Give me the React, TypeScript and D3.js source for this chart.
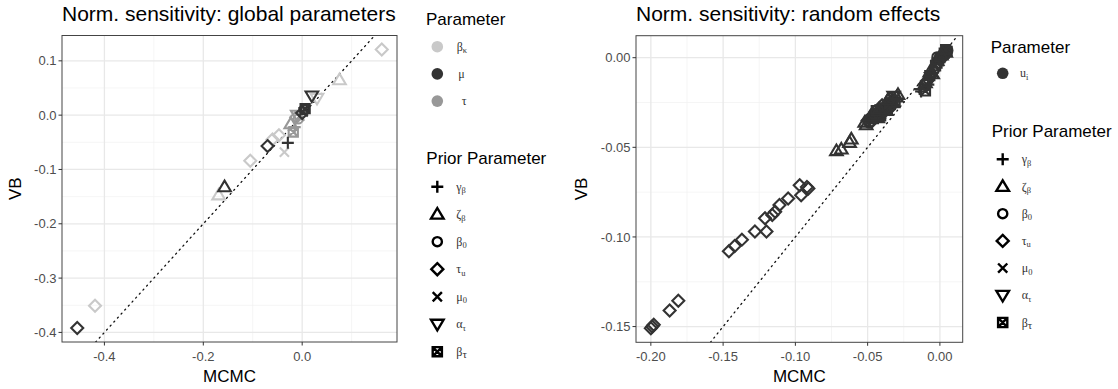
import React from "react";
import * as d3 from "d3";

// ---- global parameters panel ----
const globalParam = [
  "bk", "bk", "bk", "bk", "bk", "bk", "bk", "bk", "bk",
  "tau", "tau", "tau", "tau", "tau", "tau", "tau",
  "mu", "mu", "mu", "mu", "mu", "mu", "mu", "mu", "mu",
];
const globalPrior = [
  "tauu", "zeta", "tauu", "tauu", "tauu", "mu0", "zeta", "tauu", "alpha",
  "betatau", "zeta", "tauu", "beta0", "gamma", "mu0", "alpha",
  "tauu", "zeta", "tauu", "gamma", "alpha", "beta0", "betatau", "mu0", "tauu",
];
const globalMcmc = [
  -0.419, -0.169, -0.105, -0.06, -0.047, -0.036, 0.0755, 0.161, 0.03,
  -0.018, -0.023, -0.012, -0.008, -0.015, -0.005, -0.01,
  -0.455, -0.157, -0.07, -0.029, 0.0196, 0.004, 0.006, 0.002, 0.0,
];
const globalVb = [
  -0.351, -0.147, -0.084, -0.045, -0.037, -0.068, 0.065, 0.121, 0.031,
  -0.031, -0.016, -0.004, -0.007, -0.022, -0.002, 0.0,
  -0.392, -0.132, -0.057, -0.051, 0.0355, 0.01, 0.012, 0.006, 0.004,
];

// ---- random effects panel (all u_i) ----
const randomPrior = [
  "tauu", "tauu", "tauu", "tauu", "tauu", "tauu", "tauu", "tauu", "tauu", "tauu",
  "tauu", "tauu", "tauu", "tauu", "tauu", "tauu", "tauu", "tauu", "tauu",
  "zeta", "zeta", "zeta", "zeta",
  "zeta", "tauu", "beta0", "mu0", "zeta", "betatau", "gamma", "tauu", "zeta", "beta0",
  "betatau", "alpha", "zeta", "tauu", "beta0", "zeta", "alpha", "tauu", "zeta", "beta0",
  "betatau", "zeta",
  "zeta", "beta0", "tauu", "gamma", "zeta", "betatau", "beta0", "zeta", "tauu", "alpha",
  "zeta", "beta0", "betatau", "zeta", "tauu", "gamma", "zeta", "beta0", "alpha", "zeta",
  "gamma", "mu0", "zeta", "tauu", "beta0", "betatau", "alpha", "zeta", "gamma", "mu0",
  "gamma", "betatau", "zeta", "beta0",
  "betatau", "beta0", "betatau", "tauu", "beta0", "betatau", "zeta", "betatau", "beta0", "alpha", "mu0",
  "betatau", "beta0", "tauu", "betatau", "zeta",
];
const randomMcmc = [
  -0.2, -0.199, -0.198, -0.187, -0.181, -0.146, -0.142, -0.137, -0.128, -0.12,
  -0.121, -0.116, -0.114, -0.111, -0.105, -0.097, -0.092, -0.096, -0.091,
  -0.0716, -0.0682, -0.0625, -0.0613,
  -0.052, -0.05, -0.049, -0.048, -0.047, -0.046, -0.045, -0.044, -0.043, -0.042,
  -0.041, -0.04, -0.039, -0.038, -0.037, -0.036, -0.035, -0.034, -0.033, -0.032,
  -0.031, -0.03,
  -0.051, -0.049, -0.047, -0.045, -0.043, -0.041, -0.039, -0.037, -0.035, -0.033,
  -0.048, -0.046, -0.044, -0.042, -0.04, -0.038, -0.036, -0.034, -0.032, -0.029,
  -0.013, -0.011, -0.01, -0.009, -0.008, -0.007, -0.006, -0.005, -0.008, -0.012,
  -0.014, -0.01, -0.007, -0.004,
  -0.002, -0.001, 0.0, 0.001, 0.002, 0.003, 0.004, 0.005, 0.0055, -0.001, 0.0,
  -0.003, -0.002, 0.003, 0.004, 0.001,
];
const randomVb = [
  -0.151, -0.15, -0.149, -0.141, -0.1356, -0.108, -0.105, -0.1015, -0.097, -0.097,
  -0.0896, -0.0877, -0.0859, -0.0822, -0.0785, -0.0712, -0.0721, -0.0767, -0.073,
  -0.0519, -0.051, -0.0473, -0.0454,
  -0.036, -0.035, -0.034, -0.035, -0.033, -0.034, -0.032, -0.031, -0.032, -0.03,
  -0.031, -0.029, -0.028, -0.029, -0.027, -0.026, -0.027, -0.025, -0.024, -0.023,
  -0.025, -0.022,
  -0.0375, -0.0365, -0.0355, -0.0335, -0.0335, -0.0325, -0.0305, -0.0295, -0.0285, -0.0265,
  -0.0325, -0.0315, -0.0295, -0.0285, -0.0265, -0.0255, -0.0235, -0.0225, -0.0215, -0.0205,
  -0.0188, -0.016, -0.014, -0.013, -0.012, -0.01, -0.011, -0.009, -0.015, -0.017,
  -0.0175, -0.0185, -0.008, -0.007,
  -0.003, -0.001, 0.0, 0.001, 0.002, 0.0025, 0.003, 0.0035, 0.004, -0.004, -0.002,
  -0.0045, 0.0005, 0.001, 0.0045, 0.0015,
];

const leftXTicks = [-0.4, -0.2, 0.0];
const leftYTicks = [-0.4, -0.3, -0.2, -0.1, 0.0, 0.1];
const rightXTicks = [-0.2, -0.15, -0.1, -0.05, 0.0];
const rightYTicks = [-0.15, -0.1, -0.05, 0.0];

const paramColor: Record<string, string> = { bk: "#c9c9c9", mu: "#333333", tau: "#989898" };

const locale = d3.formatLocale({ decimal: ".", thousands: ",", grouping: [3], currency: ["", ""], minus: "-" });
const fmt1 = locale.format(".1f");
const fmt2 = locale.format(".2f");

const SANS = "Liberation Sans, Arial, Helvetica, sans-serif";
const SERIF = "Liberation Serif, Times New Roman, serif";

function shapePath(p: string): string {
  switch (p) {
    case "gamma": return "M-6,0H6M0,-6V6";
    case "zeta": return "M0,-6.2L6.3,4.4L-6.3,4.4Z";
    case "beta0": return "M4.6,0A4.6,4.6 0 1,1 -4.6,0A4.6,4.6 0 1,1 4.6,0Z";
    case "tauu": return "M0,-6L6,0L0,6L-6,0Z";
    case "mu0": return "M-4.6,-4.6L4.6,4.6M-4.6,4.6L4.6,-4.6";
    case "alpha": return "M0,6.2L6.3,-4.4L-6.3,-4.4Z";
    default: return "M-4.6,-4.6H4.6V4.6H-4.6ZM-4.6,-4.6L4.6,4.6M-4.6,4.6L4.6,-4.6";
  }
}

function expand(vals: number[]): [number, number] {
  const [lo, hi] = d3.extent(vals) as [number, number];
  const pad = (hi - lo) * 0.05;
  return [lo - pad, hi + pad];
}

function minorOf(ticks: number[], dom: [number, number]) {
  const step = ticks[1] - ticks[0];
  const out: number[] = [];
  for (let i = -1; i < ticks.length; i++) {
    const v = ticks[0] + step * (i + 0.5);
    if (v > dom[0] && v < dom[1]) out.push(v);
  }
  return out;
}

type Pt = { x: number; y: number; prior: string; color: string };

function Panel(props: {
  id: string; left: number; right: number; top: number; bottom: number;
  title: string; pts: Pt[]; xVals: number[]; yVals: number[];
  xTicks: number[]; yTicks: number[]; fmt: (v: number) => string;
  yTitleX: number;
}) {
  const { id, left, right, top, bottom, pts, xTicks, yTicks, fmt } = props;
  const xd = expand(props.xVals);
  const yd = expand(props.yVals);
  const x = d3.scaleLinear().domain(xd).range([left, right]);
  const y = d3.scaleLinear().domain(yd).range([bottom, top]);
  const xMinor = minorOf(xTicks, xd);
  const yMinor = minorOf(yTicks, yd);
  const lo = Math.max(xd[0], yd[0]);
  const hi = Math.min(xd[1], yd[1]);
  return (
    <g>
      <defs>
        <clipPath id={id}>
          <rect x={left} y={top} width={right - left} height={bottom - top} />
        </clipPath>
      </defs>
      <rect x={left} y={top} width={right - left} height={bottom - top} fill="#fff" />
      {xMinor.map((v) => (
        <line key={"xm" + v} x1={x(v)} x2={x(v)} y1={top} y2={bottom} stroke="#f1f1f1" strokeWidth={0.7} />
      ))}
      {yMinor.map((v) => (
        <line key={"ym" + v} x1={left} x2={right} y1={y(v)} y2={y(v)} stroke="#f1f1f1" strokeWidth={0.7} />
      ))}
      {xTicks.map((v) => (
        <line key={"xg" + v} x1={x(v)} x2={x(v)} y1={top} y2={bottom} stroke="#e8e8e8" strokeWidth={1.3} />
      ))}
      {yTicks.map((v) => (
        <line key={"yg" + v} x1={left} x2={right} y1={y(v)} y2={y(v)} stroke="#e8e8e8" strokeWidth={1.3} />
      ))}
      <g clipPath={`url(#${id})`}>
        <line x1={x(lo)} y1={y(lo)} x2={x(hi)} y2={y(hi)} stroke="#111" strokeWidth={1.3}
          strokeDasharray="1.2 4.2" strokeLinecap="round" />
        {pts.map((p, i) => (
          <path key={i} d={shapePath(p.prior)} transform={`translate(${x(p.x)},${y(p.y)})`}
            fill="none" stroke={p.color} strokeWidth={2.1} strokeLinejoin="miter" />
        ))}
      </g>
      <rect x={left} y={top} width={right - left} height={bottom - top} fill="none" stroke="#444" strokeWidth={1} />
      {xTicks.map((v) => (
        <g key={"xt" + v}>
          <line x1={x(v)} x2={x(v)} y1={bottom} y2={bottom + 3.5} stroke="#333" strokeWidth={1} />
          <text x={x(v)} y={361} textAnchor="middle" fontSize={13} fill="#4d4d4d" fontFamily={SANS}>{fmt(v)}</text>
        </g>
      ))}
      {yTicks.map((v) => (
        <g key={"yt" + v}>
          <line x1={left - 3.5} x2={left} y1={y(v)} y2={y(v)} stroke="#333" strokeWidth={1} />
          <text x={left - 5.5} y={y(v) + 4.6} textAnchor="end" fontSize={13} fill="#4d4d4d" fontFamily={SANS}>{fmt(v)}</text>
        </g>
      ))}
      <text x={left} y={21} fontSize={21} fontFamily={SANS} fill="#000">{props.title}</text>
      <text x={(left + right) / 2} y={381.5} textAnchor="middle" fontSize={17} fontFamily={SANS}>MCMC</text>
      <text transform={`translate(${props.yTitleX},${(top + bottom) / 2}) rotate(-90)`} textAnchor="middle"
        fontSize={17} fontFamily={SANS}>VB</text>
    </g>
  );
}

function Label({ x, y, main, sub, subSize }: { x: number; y: number; main: string; sub?: string; subSize?: number }) {
  return (
    <text x={x} y={y + 4} fontSize={12} fontFamily={SERIF} fill="#333">
      {main}
      {sub ? <tspan fontSize={subSize ?? 8.5} dy={2.5}>{sub}</tspan> : null}
    </text>
  );
}

const priorKeys = ["gamma", "zeta", "beta0", "tauu", "mu0", "alpha", "betatau"];
const priorMain = ["γ", "ζ", "β", "τ", "μ", "α", "β"];
const priorSub = ["β", "β", "0", "u", "0", "τ", "τ"];

function PriorLegend({ x, y0, step, titleY }: { x: number; y0: number; step: number; titleY: number }) {
  return (
    <g>
      <text x={x - 11} y={titleY} fontSize={17} fontFamily={SANS}>Prior Parameter</text>
      {priorKeys.map((k, i) => (
        <g key={k}>
          <path d={shapePath(k)} transform={`translate(${x},${y0 + i * step})`} fill="none" stroke="#000"
            strokeWidth={2.4} />
          <Label x={x + 19} y={y0 + i * step} main={priorMain[i]} sub={priorSub[i]}
            subSize={k === "betatau" ? 11 : 8.5} />
        </g>
      ))}
    </g>
  );
}

export default function App() {
  const leftPts: Pt[] = globalMcmc.map((v, i) => ({
    x: v, y: globalVb[i], prior: globalPrior[i], color: paramColor[globalParam[i]],
  }));
  const rightPts: Pt[] = randomMcmc.map((v, i) => ({
    x: v, y: randomVb[i], prior: randomPrior[i], color: "#333333",
  }));
  const paramKeys = ["bk", "mu", "tau"];
  const paramMain = ["β", "μ", "τ"];
  const paramSub = ["κ", "", ""];
  return (
    <svg width={1118} height={389} style={{ position: "absolute", left: 0, top: 0, background: "#fff" }}>
      <rect width={1118} height={389} fill="#fff" />
      <Panel id="clipL" left={62} right={397} top={35.5} bottom={342} title="Norm. sensitivity: global parameters"
        pts={leftPts} xVals={globalMcmc} yVals={globalVb} xTicks={leftXTicks} yTicks={leftYTicks} fmt={fmt1}
        yTitleX={21} />
      <Panel id="clipR" left={636} right={962.7} top={35.7} bottom={342.3} title="Norm. sensitivity: random effects"
        pts={rightPts} xVals={randomMcmc} yVals={randomVb} xTicks={rightXTicks} yTicks={rightYTicks} fmt={fmt2}
        yTitleX={587} />

      {/* left legends */}
      <text x={426} y={25} fontSize={17} fontFamily={SANS}>Parameter</text>
      {paramKeys.map((k, i) => (
        <g key={k}>
          <circle cx={437.3} cy={46.7 + i * 27.2} r={5.8} fill={paramColor[k]} />
          <Label x={456.7 + (k === "mu" ? 1.5 : k === "tau" ? 5 : 0)} y={46.7 + i * 27.2} main={paramMain[i]}
            sub={paramSub[i]} />
        </g>
      ))}
      <PriorLegend x={437.3} y0={186.7} step={27.5} titleY={164} />

      {/* right legends */}
      <text x={990.7} y={53.3} fontSize={17} fontFamily={SANS}>Parameter</text>
      <circle cx={1002.7} cy={73.3} r={5.8} fill="#333333" />
      <Label x={1020} y={73.3} main="u" sub="i" />
      <PriorLegend x={1002.7} y0={159.3} step={27.2} titleY={136.7} />
    </svg>
  );
}
